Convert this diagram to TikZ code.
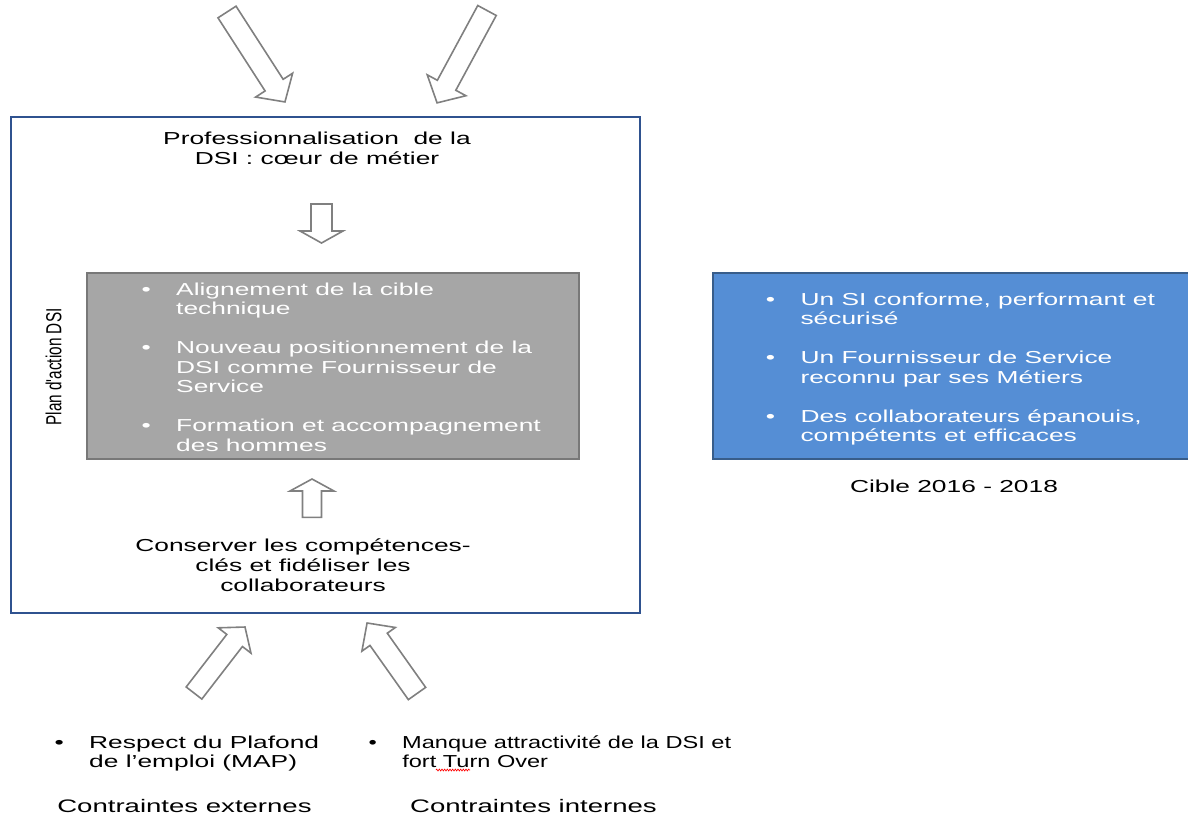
\documentclass[tikz,border=0pt]{standalone}
\usepackage{fontspec}
\setmainfont{Liberation Sans}[FakeStretch=1.52]
\newfontfamily\droitfont{Liberation Sans}
\newfontfamily\serrefont{Liberation Sans}[FakeStretch=1.36]
\usetikzlibrary{decorations.pathmorphing}

\definecolor{cadre}{RGB}{47,82,143}
\definecolor{gristrait}{RGB}{128,128,128}
\definecolor{planfond}{RGB}{166,166,166}
\definecolor{plantrait}{RGB}{120,120,120}
\definecolor{ciblefond}{RGB}{85,142,213}
\definecolor{cibletrait}{RGB}{56,93,138}

\tikzset{
  fleche/.style={draw=gristrait,fill=white,line width=1.2pt,line join=miter},
  texte/.style={inner sep=0pt,font=\fontsize{13}{15}\selectfont,align=center},
}

\newcommand{\grossefleche}[7]{%
  \begin{scope}[shift={(#1,#2)},rotate=#3]
    \draw[fleche] (0,-#5) -- ({#4-#7},-#5) -- ({#4-#7},-#6) -- (#4,0)
      -- ({#4-#7},#6) -- ({#4-#7},#5) -- (0,#5) -- cycle;
  \end{scope}}

\begin{document}
\begin{tikzpicture}[x=0.75pt,y=-0.75pt]
    \useasboundingbox (0,0) rectangle (1188,815);
    \grossefleche{227}{12}{-57.2}{107}{10.75}{22}{20}
    \grossefleche{487}{10.5}{-118.4}{105}{10.5}{22}{20}
    \draw[cadre,line width=1.8pt] (11,117) rectangle (640,613);
    \node[texte,anchor=base] (titre) at (317,164) {Professionnalisation \ de la\\DSI : c\oe ur de m\'etier};
    \grossefleche{321.5}{204}{-90}{39}{10.5}{21.5}{12}
    \draw[draw=plantrait,fill=planfond,line width=1.5pt] (87,273) rectangle (579,459);
    \node[texte,text=white,anchor=north west,align=left,font=\fontsize{13}{14.5}\selectfont] (plan) at (141.4,281.5) {%
      \begin{tabular}{@{}l@{\hspace{19pt}}l@{}}
        \textbullet & Alignement de la cible\\
         & technique\\[15pt]
        \textbullet & Nouveau positionnement de la\\
         & DSI comme Fournisseur de\\
         & Service\\[15pt]
        \textbullet & Formation et accompagnement\\
         & des hommes
      \end{tabular}};
    \node[texte,rotate=90] (planaction) at (53.7,367) {\scalebox{1}[1.42]{\droitfont\fontsize{11.5}{13}\selectfont Plan d'action DSI}};
    \grossefleche{312}{517.3}{90}{38.3}{9.5}{22}{12}
    \node[texte,anchor=base] (conserver) at (303,591) {Conserver les comp\'etences-\\cl\'es et fid\'eliser les\\collaborateurs};
    \grossefleche{194}{693}{52.3}{83.4}{9.9}{20.7}{17}
    \grossefleche{417}{693.5}{125.3}{86.4}{10.6}{20.5}{20}
    \draw[draw=cibletrait,fill=ciblefond,line width=1.5pt] (713,273) rectangle (1215,459);
    \node[texte,text=white,anchor=north west,align=left,font=\fontsize{13}{14.5}\selectfont] (cible) at (765.7,291.5) {%
      \begin{tabular}{@{}l@{\hspace{19pt}}l@{}}
        \textbullet & Un SI conforme, performant et\\
         & s\'ecuris\'e\\[15pt]
        \textbullet & Un Fournisseur de Service\\
         & reconnu par ses M\'etiers\\[15pt]
        \textbullet & Des collaborateurs \'epanouis,\\
         & comp\'etents et efficaces
      \end{tabular}};
    \node[texte,anchor=base] (cibledate) at (954,492.5) {Cible 2016 - 2018};
    \node[texte,anchor=north west,align=left,font=\fontsize{13}{14.5}\selectfont] (externe) at (54.4,734.5) {%
      \begin{tabular}{@{}l@{\hspace{19pt}}l@{}}
        \textbullet & Respect du Plafond\\
         & de l'emploi (MAP)
      \end{tabular}};
    \node[texte,anchor=north west,align=left,font=\serrefont\fontsize{13}{14.5}\selectfont] (interne) at (368.4,734.5) {%
      \begin{tabular}{@{}l@{\hspace{19pt}}l@{}}
        \textbullet & Manque attractivit\'e de la DSI et\\
         & fort Turn Over
      \end{tabular}};
    \node[texte,anchor=base,font=\fontsize{13.6}{15}\selectfont] (contrext) at (184.5,812) {Contraintes externes};
    \node[texte,anchor=base,font=\fontsize{13.6}{15}\selectfont] (contrint) at (533.5,812) {Contraintes internes};
    \draw[red,line width=0.5pt,decorate,decoration={zigzag,amplitude=0.7pt,segment length=2pt}] (436,770) -- (470,770);
\end{tikzpicture}
\end{document}
